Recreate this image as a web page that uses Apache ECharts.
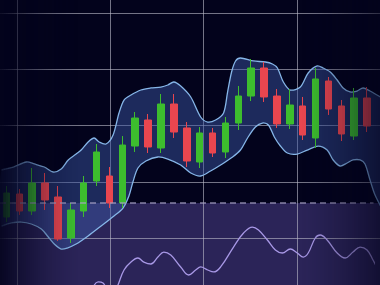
<!DOCTYPE html>
<html><head><meta charset="utf-8">
<script src="https://cdn.jsdelivr.net/npm/echarts@6/dist/echarts.min.js"></script>
<style>html,body{margin:0;padding:0;background:#03031c}#c{width:380px;height:285px}</style>
</head><body><div id="c"></div>
<script>
// ---- data ----
const sessions = ['D1','D2','D3','D4','D5','D6','D7','D8','D9','D10','D11','D12','D13','D14','D15','D16','D17','D18','D19','D20','D21','D22','D23','D24','D25','D26','D27','D28','D29'];
const opens  = [13.73,17.82,14.80,19.78,17.29,10.00,14.80,20.13,21.02,16.22,26.35,30.98,26.00,33.82,29.56,23.51,28.67,25.29,30.44,35.24,40.22,35.24,30.27,33.47,27.78,37.91,33.47,28.13,34.89];
const closes = [18.00,14.80,19.78,16.76,9.82,14.98,19.78,25.29,16.22,26.53,31.33,26.18,33.82,28.84,23.69,28.67,25.11,30.44,35.24,40.22,35.07,30.27,33.64,28.31,38.27,32.93,28.49,34.89,29.91];
const lows   = [12.84,14.09,14.09,14.98,9.47,9.11,13.73,19.24,15.33,15.33,25.29,25.11,25.11,27.78,22.62,22.44,24.40,24.22,29.20,34.35,34.18,29.56,29.38,27.42,26.00,31.87,27.24,27.42,28.84];
const highs  = [19.24,18.71,22.44,21.55,19.24,16.22,21.02,26.71,22.62,28.13,32.40,32.04,35.60,35.60,30.62,29.73,29.56,31.51,37.02,41.82,41.29,36.49,36.49,35.07,40.22,38.62,34.53,36.67,36.84];

// Bollinger-style envelope: [session index, price]
const upperBand = [[-0.39,22.09],[0.54,22.62],[1.55,23.51],[2.17,23.16],[2.94,22.62],[3.63,21.73],[4.25,22.27],[4.80,23.87],[5.41,24.93],[5.80,25.64],[6.34,27.07],[6.81,27.78],[7.19,27.07],[7.73,26.71],[8.28,28.31],[8.74,32.22],[9.13,34.53],[9.67,35.42],[10.44,36.31],[11.21,36.67],[11.99,36.84],[12.53,37.20],[12.99,37.73],[13.53,37.02],[14.31,35.07],[15.08,31.51],[15.62,30.62],[16.24,30.98],[16.86,32.22],[17.17,35.95],[17.48,39.51],[17.79,41.47],[18.17,42.00],[19.18,41.47],[20.11,41.29],[20.65,40.93],[21.04,40.22],[21.50,37.73],[22.04,36.31],[22.82,36.84],[23.43,39.33],[24.13,40.58],[24.59,40.22],[25.14,39.51],[25.68,38.09],[26.14,36.67],[26.68,35.96],[27.22,36.13],[27.69,36.67],[28.23,36.13],[28.77,35.42],[29.31,34.71]];
const lowerBand = [[-0.39,12.13],[0.39,12.67],[1.16,12.84],[1.93,12.49],[2.71,11.60],[3.25,10.18],[3.71,8.93],[4.25,8.04],[4.72,8.22],[5.41,8.93],[6.34,10.36],[7.35,12.13],[8.35,13.91],[9.05,15.33],[9.51,17.47],[9.82,19.96],[10.21,22.44],[10.83,23.69],[11.76,24.40],[12.53,24.04],[13.53,22.98],[14.31,21.55],[15.08,21.02],[15.85,21.91],[16.63,22.98],[17.56,24.40],[18.17,25.64],[18.72,27.78],[19.33,29.73],[19.88,30.44],[20.34,30.09],[20.80,27.95],[21.27,26.35],[21.81,25.11],[22.58,24.93],[23.36,25.64],[24.21,26.35],[24.90,25.64],[25.37,23.87],[25.91,22.80],[26.45,23.33],[26.91,23.87],[27.46,23.87],[27.84,23.16],[28.23,20.31],[28.62,17.64],[29.31,14.62]];

// oscillator (lower panel, 0-100)
const oscillator = [[6.57,-8.5],[7.12,3.7],[7.50,2.4],[7.97,-8.5],[8.43,-8.5],[8.66,0],[9.13,18.3],[9.67,28.0],[10.21,32.9],[10.67,28.0],[11.21,25.6],[11.76,34.1],[12.22,40.2],[12.76,36.6],[13.53,22.0],[14.15,12.2],[14.69,18.3],[15.08,22.0],[15.62,18.3],[16.09,15.9],[16.63,22.0],[17.63,46.3],[18.41,63.4],[19.10,70.7],[19.57,67.1],[20.26,54.9],[20.88,42.7],[21.42,39.0],[22.04,43.9],[22.58,39.0],[23.05,34.1],[23.43,39.0],[23.98,57.3],[24.36,61.0],[24.90,54.9],[25.68,39.0],[26.30,32.9],[26.91,40.2],[27.46,46.3],[28.00,42.7],[28.46,30.5],[28.85,18.3],[29.31,0]];

const priceTicks = [10, 20, 30, 40, 50];

// ---- chart ----
const GREEN = '#3dbd2e', RED = '#e9464f';
const GRID_COLOR = 'rgba(185,185,200,0.62)';
const candleData = opens.map((o, i) => [o, closes[i], lows[i], highs[i]]);

// edge shading (decoration): opacity as a function of horizontal pixel position
const EDGE_L = 80, EDGE_R = 300;
function edgeAlpha(x, W) {
  const l = x < EDGE_L ? Math.pow(1 - x / EDGE_L, 1.5) * 0.9 : 0;
  const r = x > EDGE_R ? Math.pow((x - EDGE_R) / (W - EDGE_R), 1.4) * 0.62 : 0;
  return Math.max(l, r);
}
const edgeStrips = [];
for (let x = 0; x < 380; x += 2) edgeStrips.push(x);

const chart = echarts.init(document.getElementById('c'), null, {renderer: 'canvas'});
chart.setOption({
  animation: false,
  backgroundColor: '#03031c',
  grid: [
    {left: -1.5, right: 6.5, top: 13, bottom: 47},
    {left: 0, right: 0, top: 13, bottom: 47},
    {left: 17, right: 83, top: 0, bottom: 0},
    {left: -1.5, right: 6.5, top: 203, bottom: 0}
  ],
  xAxis: [
    {type: 'category', gridIndex: 0, data: sessions, show: false, boundaryGap: true},
    {type: 'value', gridIndex: 0, min: -0.5, max: 28.5, show: false},
    {type: 'value', gridIndex: 1, min: 0, max: 1, show: false},
    {type: 'value', gridIndex: 2, min: 0, max: 3, interval: 1,
      axisLine: {show: false}, axisTick: {show: false}, axisLabel: {show: false},
      splitLine: {show: true, lineStyle: {color: GRID_COLOR, width: 1}}},
    {type: 'value', gridIndex: 3, min: -0.5, max: 28.5, show: false}
  ],
  yAxis: [
    {type: 'value', gridIndex: 0, min: 10, max: 50, show: false},
    {type: 'value', gridIndex: 1, min: priceTicks[0], max: priceTicks[priceTicks.length - 1], interval: 10,
      axisLine: {show: false}, axisTick: {show: false}, axisLabel: {show: false},
      splitLine: {show: true, lineStyle: {color: GRID_COLOR, width: 1}}},
    {type: 'value', gridIndex: 2, min: 0, max: 1, show: false},
    {type: 'value', gridIndex: 3, min: 0, max: 100, show: false}
  ],
  graphic: {
    elements: [{type: 'rect', z: -10, silent: true, shape: {x: 0, y: 203, width: 380, height: 82},
      style: {fill: '#2b2458'}}].concat(edgeStrips.map(function (x) {
        const a = edgeAlpha(x + 1, 380);
        return {type: 'rect', z: 90, zlevel: 0, silent: true, invisible: a < 0.003,
          shape: {x: x, y: 0, width: 2, height: 285},
          style: {fill: 'rgba(3,3,28,' + a.toFixed(3) + ')'}};
      }))
  },
  series: [
    {
      type: 'custom', name: 'band', xAxisIndex: 1, yAxisIndex: 0, z: 1, silent: true,
      data: upperBand, encode: {x: 0, y: 1},
      renderItem: function (params, api) {
        if (params.dataIndex !== 0) return null;
        const up = upperBand.map(p => api.coord(p));
        const lo = lowerBand.map(p => api.coord(p));
        const poly = up.concat(lo.slice().reverse());
        return {type: 'group', children: [
          {type: 'polygon', shape: {points: poly, smooth: 0.3}, style: {fill: 'rgba(60,88,165,0.47)'}},
          {type: 'polyline', shape: {points: up, smooth: 0.3}, style: {stroke: '#86b6e8', lineWidth: 1.3, fill: null}},
          {type: 'polyline', shape: {points: lo, smooth: 0.3}, style: {stroke: '#86b6e8', lineWidth: 1.3, fill: null}}
        ]};
      }
    },
    {
      type: 'candlestick', name: 'price', xAxisIndex: 0, yAxisIndex: 0, z: 3,
      data: candleData, barWidth: 7, clip: false,
      itemStyle: {color: GREEN, color0: RED, borderColor: GREEN, borderColor0: RED, borderWidth: 1}
    },
    {
      type: 'line', name: 'oscillator', xAxisIndex: 4, yAxisIndex: 3, z: 3,
      data: oscillator, smooth: 0.4, showSymbol: false, clip: false,
      lineStyle: {color: '#a898e6', width: 1.3},
      markLine: {silent: true, symbol: ['none', 'none'], label: {show: false},
        lineStyle: {color: 'rgba(165,160,195,0.8)', type: [6, 4], width: 1.5},
        data: [{yAxis: 100}]}
    }
  ]
});
</script>
</body></html>
